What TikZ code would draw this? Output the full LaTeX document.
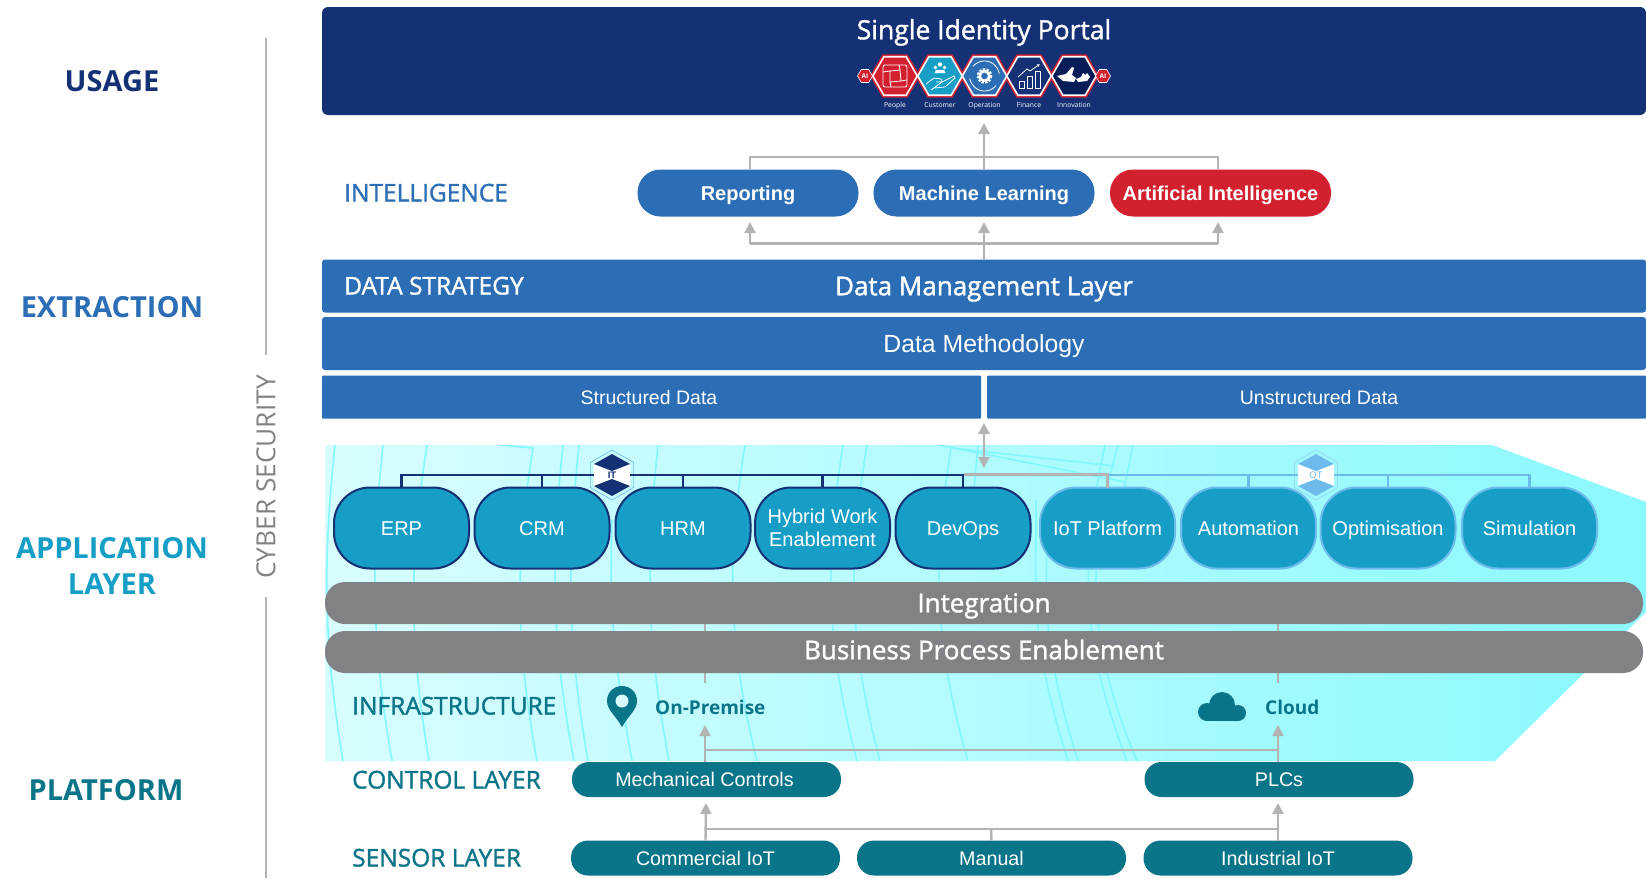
\documentclass[tikz,border=0pt]{standalone}
\usepackage{fontspec}
\setmainfont{Open Sans}
\newfontfamily\arialfont{Liberation Sans}
\newfontfamily\semifont[FakeBold=1.4]{Open Sans}
\usetikzlibrary{arrows.meta,shapes.geometric}
\definecolor{ident_navy}{RGB}{20, 49, 118}
\definecolor{ident_dark}{RGB}{8, 28, 88}
\definecolor{ident_blue}{RGB}{44, 110, 181}
\definecolor{ident_cyan}{RGB}{23, 158, 198}
\definecolor{ident_teal}{RGB}{10, 116, 136}
\definecolor{ident_red}{RGB}{210, 32, 46}
\definecolor{ident_grey}{RGB}{128, 130, 133}
\definecolor{ident_line}{RGB}{179, 179, 179}
\definecolor{ident_sky}{RGB}{108, 187, 236}
\definecolor{ident_pale}{RGB}{216, 253, 255}
\definecolor{ident_aqua}{RGB}{138, 249, 253}
\definecolor{ident_wave}{RGB}{130, 248, 254}
\tikzstyle{none}=[]
\tikzstyle{bar}=[rectangle,rounded corners=3pt,fill=ident_blue,text=white,inner sep=0pt,outer sep=0pt,
  minimum height=53pt,text height=22pt,text depth=3.4pt,font=\semifont\fontsize{26}{30}\selectfont]
\tikzstyle{datatype}=[bar,minimum width=659pt,minimum height=43pt,rounded corners=1pt,text height=16pt,text depth=2pt,
  font=\arialfont\fontsize{19.5}{24}\selectfont]
\tikzstyle{pill}=[rectangle,rounded corners=23pt,text=white,inner sep=0pt,outer sep=0pt,minimum width=221pt,
  minimum height=47pt,text height=16.4pt,text depth=2pt,font=\arialfont\fontsize{20}{24}\selectfont\bfseries]
\tikzstyle{itapp}=[rectangle,rounded corners=36pt,fill=ident_cyan,draw=ident_navy,line width=2pt,text=white,
  inner sep=0pt,outer sep=0pt,minimum width=135pt,minimum height=81pt,align=center,
  text height=16.4pt,text depth=2pt,font=\arialfont\fontsize{20}{24}\selectfont]
\tikzstyle{otapp}=[itapp,draw=ident_sky]
\tikzstyle{band}=[rectangle,rounded corners=20pt,fill=ident_grey,text=white,inner sep=0pt,outer sep=0pt,
  minimum width=1318pt,minimum height=42pt,text height=22pt,text depth=3.4pt,font=\semifont\fontsize{26}{30}\selectfont]
\tikzstyle{plant}=[rectangle,rounded corners=17pt,fill=ident_teal,text=white,inner sep=0pt,outer sep=0pt,
  minimum width=269pt,minimum height=35pt,text height=16pt,text depth=2pt,font=\arialfont\fontsize{19.7}{24}\selectfont]
\tikzstyle{side}=[font=\fontsize{29}{35}\selectfont\bfseries,align=center]
\tikzstyle{tier}=[anchor=west,inner sep=0pt,text height=20pt,text depth=3pt,font=\semifont\fontsize{24.5}{28}\selectfont]
\tikzstyle{hexred}=[regular polygon,regular polygon sides=6,fill=ident_red,inner sep=0pt,minimum size=50pt]
\tikzstyle{hexin}=[regular polygon,regular polygon sides=6,draw=white,line width=1.6pt,inner sep=0pt,minimum size=44.5pt]
\tikzstyle{hexai}=[regular polygon,regular polygon sides=6,fill=ident_red,draw=white,line width=0.6pt,text=white,
  inner sep=0pt,minimum size=15pt,font=\fontsize{6.5}{7}\selectfont\bfseries]
\tikzstyle{tiny}=[text=white,font=\fontsize{6.8}{8}\selectfont]
\tikzstyle{badge}=[regular polygon,regular polygon sides=6,shape border rotate=30,inner sep=0pt,
  minimum size=50pt,line width=0.6pt]
\tikzstyle{badgein}=[regular polygon,regular polygon sides=6,shape border rotate=30,fill=white,inner sep=0pt,
  minimum size=42pt]
\tikzstyle{flow}=[draw=ident_line,line width=2.4pt]
\tikzstyle{tip}=[flow,-{Triangle[width=11pt,length=11pt]}]
\tikzstyle{ithub}=[draw=ident_navy,line width=2.4pt]
\tikzstyle{othub}=[draw=ident_sky,line width=2.4pt]
\tikzstyle{wave}=[draw=ident_wave,line width=1.6pt]
\tikzstyle{icon}=[draw=white,line width=0.8pt]
\begin{document}
\begin{tikzpicture}[x=1pt,y=-1pt]
            \useasboundingbox (0,0) rectangle (1646,878);
            \path [left color=ident_pale,right color=ident_aqua] (325,445) -- (1492,445) -- (1646,502) -- (1646,612) -- (1495,761) -- (325,761) -- cycle;
            \begin{scope}
            \clip (325,445) -- (1492,445) -- (1646,502) -- (1646,612) -- (1495,761) -- (325,761) -- cycle;
            \draw [style=wave] (335,445) .. controls (323,560) and (323,640) .. (343,761);
            \draw [style=wave] (383,445) .. controls (371,560) and (371,640) .. (392,761);
            \draw [style=wave] (427,445) .. controls (409,560) and (409,640) .. (429,761);
            \draw [style=wave] (500,445) -- (533,448) .. controls (515,560) and (515,640) .. (537,761);
            \draw [style=wave] (563,445) .. controls (551,560) and (551,640) .. (574,761);
            \draw [style=wave] (579,445) .. controls (567,560) and (567,640) .. (588,761);
            \draw [style=wave] (612,520) .. controls (610,600) and (610,640) .. (632,761);
            \draw [style=wave] (658,445) .. controls (646,560) and (646,640) .. (669,761);
            \draw [style=wave] (745,445) .. controls (727,560) and (727,640) .. (757,761);
            \draw [style=wave] (843,445) .. controls (825,560) and (825,640) .. (857,761);
            \draw [style=wave] (867,445) .. controls (848,560) and (848,640) .. (880,761);
            \draw [style=wave] (951,448) .. controls (933,560) and (933,640) .. (968,761);
            \draw [style=wave] (978,445) -- (973,500);
            \draw [style=wave] (1036,500) .. controls (1036,600) and (1030,640) .. (1068,761);
            \draw [style=wave] (1048,500) .. controls (1046,600) and (1040,640) .. (1078,761);
            \draw [style=wave] (1105,445) .. controls (1080,560) and (1080,640) .. (1127,761);
            \draw [style=wave] (1118,445) .. controls (1086,560) and (1086,640) .. (1137,761);
            \draw [style=wave] (1133,445) -- (1122,500);
            \draw [style=wave] (938,445) -- (1125,482);
            \draw [style=wave] (951,448) -- (1115,466);
            \end{scope}
            \node [rectangle,rounded corners=6pt,fill=ident_navy,inner sep=0pt,outer sep=0pt,minimum width=1324pt,minimum height=108pt] (0) at (984,61) {};
            \node [text=white,inner sep=0pt,text height=22pt,text depth=3.4pt,font=\semifont\fontsize{26.5}{30}\selectfont] (1) at (984,30) {Single Identity Portal};
            \node [style=hexred] (2) at (895,76) {};
            \node [style=hexred] (3) at (940,76) {};
            \node [style=hexred] (4) at (984.5,76) {};
            \node [style=hexred] (5) at (1029,76) {};
            \node [style=hexred] (6) at (1074,76) {};
            \node [style=hexin,fill=ident_red] (7) at (895,76) {};
            \node [style=hexin,fill=ident_cyan] (8) at (940,76) {};
            \node [style=hexin,fill=ident_blue] (9) at (984.5,76) {};
            \node [style=hexin,fill=ident_navy] (10) at (1029,76) {};
            \node [style=hexin,fill=ident_dark] (11) at (1074,76) {};
            \node [style=hexai] (12) at (865,76) {AI};
            \node [style=hexai] (13) at (1103,76) {AI};
            \node [style=tiny] (14) at (895,105.5) {People};
            \node [style=tiny] (15) at (940,105.5) {Customer};
            \node [style=tiny] (16) at (984.5,105.5) {Operation};
            \node [style=tiny] (17) at (1029,105.5) {Finance};
            \node [style=tiny] (18) at (1074,105.5) {Innovation};
            \draw [style=icon,rounded corners=2pt] (883,65) rectangle (907,87);
            \draw [style=icon] (890,71) -- (900,70) -- (901,81) -- (890,82) -- cycle;
            \draw [style=icon] (890,71) -- (883,72);
            \draw [style=icon] (900,70) -- (899,65);
            \draw [style=icon] (901,81) -- (907,80);
            \draw [style=icon] (890,82) -- (891,87);
            \fill [white] (940,64.5) circle (2.2);
            \fill [white] (935.5,67.5) circle (1.8);
            \fill [white] (944.5,67.5) circle (1.8);
            \fill [white] (934.5,73) -- (945.5,73) -- (944,70) -- (936,70) -- cycle;
            \draw [style=icon] (926,84) -- (934,78) -- (941,79) -- (942,82) -- (936,82);
            \draw [style=icon] (942,82) -- (954,76) -- (955,78) -- (945,87) -- (934,88) -- (931,90) -- cycle;
            \draw [draw=white,line width=0.8pt] (984.5,76) ++(40:15) arc (40:170:15);
            \draw [draw=white,line width=0.8pt] (984.5,76) ++(220:15) arc (220:350:15);
            \draw [draw=white,line width=2.5pt,dash pattern=on 2.2pt off 1.4pt] (984.5,76) circle (6.5);
            \fill [white] (984.5,76) circle (6);
            \fill [ident_blue] (984.5,76) circle (3.3);
            \draw [style=icon] (1019,88) rectangle (1024,81);
            \draw [style=icon] (1027,88) rectangle (1032,76);
            \draw [style=icon] (1035,88) rectangle (1040,71);
            \draw [draw=white,line width=0.8pt,-{Latex[length=3pt,width=3pt]}] (1018,77) -- (1027,69) -- (1030,71) -- (1040,64);
            \fill [white] (1057,76) -- (1066,74) -- (1072,67) -- (1074,68) -- (1072,75) -- (1076,78) -- (1074,82) -- (1063,81) -- cycle;
            \fill [white] (1076,79) -- (1081,77) -- (1083,73) -- (1085,75) -- (1087,73) -- (1090,77) -- (1087,81) -- (1078,82) -- cycle;
            \node [style=tier,text=ident_blue] (19) at (344,193) {INTELLIGENCE};
            \node [style=pill,fill=ident_blue] (20) at (748,193) {Reporting};
            \node [style=pill,fill=ident_blue] (21) at (984,193) {Machine Learning};
            \node [style=pill,fill=ident_red] (22) at (1220.5,193) {Artificial Intelligence};
            \node [style=none] (23) at (984,123) {};
            \node [style=none] (24) at (750,157) {};
            \node [style=none] (25) at (1218,157) {};
            \node [style=none] (26) at (750,169) {};
            \node [style=none] (27) at (1218,169) {};
            \node [style=bar,minimum width=1324pt] (28) at (984,286) {Data Management Layer};
            \node [style=tier,text=white] (29) at (344,286) {DATA STRATEGY};
            \node [style=bar,minimum width=1324pt,text height=20pt,text depth=2.8pt,font=\arialfont\fontsize{24.8}{28}\selectfont] (30) at (984,343.5) {Data Methodology};
            \node [style=datatype] (31) at (651.5,397) {\hspace*{-5pt}Structured Data};
            \node [style=datatype] (32) at (1316.5,397) {\hspace*{5pt}Unstructured Data};
            \node [style=none] (33) at (750,243.5) {};
            \node [style=none] (34) at (1218,243.5) {};
            \node [style=none] (35) at (750,222) {};
            \node [style=none] (36) at (1218,222) {};
            \node [style=none] (37) at (984,222) {};
            \node [style=none] (39) at (984,423) {};
            \node [style=none] (40) at (984,468) {};
            \draw [style=tip] (21.north) to (23.center);
            \draw [style=flow] (26.center) to (24.center) to (25.center) to (27.center);
            \draw [style=tip] (28.north) to (37.center);
            \draw [style=tip] (33.center) to (35.center);
            \draw [style=tip] (34.center) to (36.center);
            \draw [style=flow] (33.center) to (34.center);
            \draw [style=flow,{Triangle[width=11pt,length=11pt]}-{Triangle[width=11pt,length=11pt]}] (39.center) to (40.center);
            \node [style=itapp] (41) at (401.5,528) {ERP};
            \node [style=itapp] (42) at (542,528) {CRM};
            \node [style=itapp] (43) at (683,528) {HRM};
            \node [style=itapp,text height=,text depth=] (44) at (822.5,528) {Hybrid Work\\[-1pt]Enablement};
            \node [style=itapp] (45) at (963,528) {DevOps};
            \node [style=otapp] (46) at (1107.5,528) {IoT Platform};
            \node [style=otapp] (47) at (1248.5,528) {Automation};
            \node [style=otapp] (48) at (1388,528) {Optimisation};
            \node [style=otapp] (49) at (1529.5,528) {Simulation};
            \node [style=badge,draw=ident_sky] (50) at (612,475) {};
            \node [style=badge,draw=ident_sky!70] (51) at (1316,475) {};
            \node [style=badgein] (90) at (612,475) {};
            \node [style=badgein] (91) at (1316,475) {};
            \fill [ident_navy] (612,454) -- (630,464) -- (612,471) -- (594,464) -- cycle;
            \fill [ident_navy] (612,479) -- (630,486) -- (612,496) -- (594,486) -- cycle;
            \fill [ident_sky] (1316,454) -- (1334,464) -- (1316,471) -- (1298,464) -- cycle;
            \fill [ident_sky] (1316,479) -- (1334,486) -- (1316,496) -- (1298,486) -- cycle;
            \node [text=ident_navy,inner sep=0pt,font=\arialfont\fontsize{9.5}{10}\selectfont\bfseries] (52) at (612,475) {IT};
            \node [text=ident_sky,inner sep=0pt,font=\arialfont\fontsize{9.5}{10}\selectfont] (53) at (1316,475) {OT};
            \draw [style=ithub] (41.north) |- (90.west);
            \draw [style=ithub] (42.north) |- (90.west);
            \draw [style=ithub] (43.north) |- (90.east);
            \draw [style=ithub] (44.north) |- (90.east);
            \draw [style=ithub] (45.north) |- (90.east);
            \draw [style=othub] (46.north) |- (91.west);
            \draw [style=othub] (47.north) |- (91.west);
            \draw [style=othub] (48.north) |- (91.east);
            \draw [style=othub] (49.north) |- (91.east);
            \draw [style=flow] (45.north) ++(1.2,-13) -| (46.north);
            \node [style=none] (54) at (705,683) {};
            \node [style=none] (55) at (705,615) {};
            \node [style=none] (56) at (1278,683) {};
            \node [style=none] (57) at (1278,615) {};
            \draw [style=flow] (54.center) to (55.center);
            \draw [style=flow] (56.center) to (57.center);
            \node [style=band] (58) at (984,603) {Integration};
            \node [style=band,text depth=7.4pt] (59) at (984,652) {Business Process Enablement};
            \node [style=tier,text=ident_teal] (60) at (352,706) {INFRASTRUCTURE};
            \fill [ident_teal] (622,727) .. controls (616,716) and (607,710) .. (607,701) .. controls (607,692) and (614,686) .. (622,686) .. controls (630,686) and (637,692) .. (637,701) .. controls (637,710) and (628,716) .. (622,727) -- cycle;
            \fill [ident_pale] (622,701) circle (6.5);
            \node [anchor=west,text=ident_teal,inner sep=0pt,font=\fontsize{19}{24}\selectfont\bfseries] (61) at (655,707) {On-Premise};
            \fill [ident_teal] (1222,705) circle (13);
            \fill [ident_teal] (1207,712) circle (9);
            \fill [ident_teal] (1238,713) circle (8);
            \fill [ident_teal] (1207,711) rectangle (1238,721);
            \node [anchor=west,text=ident_teal,inner sep=0pt,font=\fontsize{19}{24}\selectfont\bfseries] (62) at (1265,707) {Cloud};
            \node [style=tier,text=ident_teal] (63) at (352,780) {CONTROL LAYER};
            \node [style=plant] (64) at (706.5,779.5) {\hspace*{-4pt}Mechanical Controls};
            \node [style=plant] (65) at (1279,779.5) {PLCs};
            \node [style=none] (66) at (705,725) {};
            \node [style=none] (67) at (1278,725) {};
            \node [style=none] (68) at (705,762) {};
            \node [style=none] (69) at (1278,762) {};
            \node [style=none] (70) at (705,750) {};
            \node [style=none] (71) at (1278,750) {};
            \draw [style=tip] (68.center) to (66.center);
            \draw [style=tip] (69.center) to (67.center);
            \draw [style=flow] (70.center) to (71.center);
            \node [style=tier,text=ident_teal] (72) at (352,858) {SENSOR LAYER};
            \node [style=plant] (73) at (705.5,858) {Commercial IoT};
            \node [style=plant] (74) at (991.5,858) {Manual};
            \node [style=plant] (75) at (1278,858) {Industrial IoT};
            \node [style=none] (76) at (706,803) {};
            \node [style=none] (77) at (1278,803) {};
            \node [style=none] (78) at (706,829) {};
            \node [style=none] (79) at (1278,829) {};
            \node [style=none] (80) at (991,829) {};
            \draw [style=tip] (73.north) to (76.center);
            \draw [style=tip] (75.north) to (77.center);
            \draw [style=flow] (78.center) to (79.center);
            \draw [style=flow] (74.north) to (80.center);
            \node [style=side,text=ident_navy] (81) at (112,81) {USAGE};
            \node [style=side,text=ident_blue] (82) at (112,307) {EXTRACTION};
            \node [style=side,text=ident_cyan] (83) at (112,566) {APPLICATION\\[1pt]LAYER};
            \node [style=side,text=ident_teal] (84) at (106,790) {PLATFORM};
            \node [rotate=90,text=ident_grey,font=\fontsize{26.3}{30}\selectfont] (85) at (266,477) {CYBER SECURITY};
            \node [style=none] (86) at (266,38) {};
            \node [style=none] (87) at (266,355) {};
            \node [style=none] (88) at (266,597) {};
            \node [style=none] (89) at (266,878) {};
            \draw [draw=ident_line,line width=1.6pt] (86.center) to (87.center);
            \draw [draw=ident_line,line width=1.6pt] (88.center) to (89.center);
    \end{tikzpicture}
\end{document}
